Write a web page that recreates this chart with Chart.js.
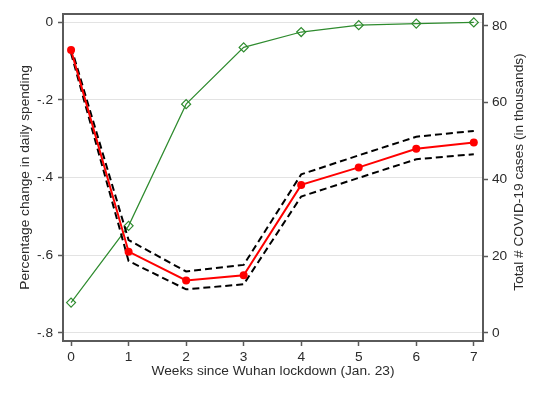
<!DOCTYPE html>
<html>
<head>
<meta charset="utf-8">
<script src="https://cdn.jsdelivr.net/npm/chart.js@4/dist/chart.umd.min.js"></script>
<style>
    body { margin: 0; background: #fff; }
    #wrap { width: 543px; height: 395px; }
</style>
</head>
<body>
<div id="wrap"><canvas id="chart" width="543" height="395"></canvas></div>
<script>
// Data
const weeks = [0, 1, 2, 3, 4, 5, 6, 7];
const spending = [-0.072, -0.591, -0.665, -0.652, -0.419, -0.374, -0.326, -0.310];
const spendingUpper = [-0.064, -0.561, -0.642, -0.625, -0.392, -0.343, -0.295, -0.280];
const spendingLower = [-0.080, -0.615, -0.688, -0.675, -0.449, -0.401, -0.353, -0.340];
const cases = [7.9, 27.9, 59.6, 74.4, 78.4, 80.2, 80.6, 80.9];

// Tick labels
const xTicks = [0, 1, 2, 3, 4, 5, 6, 7];
const leftTicks = [0, -0.2, -0.4, -0.6, -0.8];
const leftTickLabels = ["0", "-.2", "-.4", "-.6", "-.8"];
const rightTicks = [0, 20, 40, 60, 80];
const rightTitle = "Total # COVID-19 cases (in thousands)";

const frameColor = "#5a5a5a";
const textColor = "#2b2b2b";
const font = { family: "Arial, 'Liberation Sans', sans-serif", size: 13.7 };

function pts(ys) {
    return weeks.map((w, i) => ({ x: w, y: ys[i] }));
}

function setTicks(list) {
    return scale => {
        scale.ticks = list.map(v => ({ value: v }));
    };
}

// top line of the frame + right title read bottom-to-top
const extras = {
    id: "extras",
    afterDraw(chart) {
        const { ctx, chartArea } = chart;
        ctx.save();
        ctx.strokeStyle = frameColor;
        ctx.lineWidth = 2;
        ctx.beginPath();
        ctx.moveTo(chartArea.left - 1, chartArea.top);
        ctx.lineTo(chartArea.right + 1, chartArea.top);
        ctx.stroke();

        ctx.translate(519, 172);
        ctx.rotate(-Math.PI / 2);
        ctx.fillStyle = textColor;
        ctx.font = font.size + "px " + font.family;
        ctx.textAlign = "center";
        ctx.textBaseline = "middle";
        ctx.fillText(rightTitle, 0, 0);
        ctx.restore();
    }
};

new Chart(document.getElementById("chart"), {
    type: "line",
    data: {
        datasets: [
            {
                data: pts(spending),
                yAxisID: "y",
                borderColor: "#ff0000",
                backgroundColor: "#ff0000",
                borderWidth: 2,
                pointRadius: 4,
                pointBorderWidth: 0
            },
            {
                data: pts(spendingUpper),
                yAxisID: "y",
                borderColor: "#000000",
                borderWidth: 2,
                borderDash: [7, 4],
                pointRadius: 0
            },
            {
                data: pts(spendingLower),
                yAxisID: "y",
                borderColor: "#000000",
                borderWidth: 2,
                borderDash: [7, 4],
                pointRadius: 0
            },
            {
                data: pts(cases),
                yAxisID: "y1",
                borderColor: "#2e8b2e",
                backgroundColor: "rgba(0,0,0,0)",
                borderWidth: 1.2,
                pointStyle: "rectRot",
                pointRadius: 4.5,
                pointBorderWidth: 1.2
            }
        ]
    },
    options: {
        responsive: false,
        animation: false,
        layout: { padding: { top: 14, left: 0, right: 0, bottom: 0 } },
        plugins: {
            legend: { display: false },
            tooltip: { enabled: false }
        },
        scales: {
            x: {
                type: "linear",
                min: -0.14,
                max: 7.16,
                afterBuildTicks: setTicks(xTicks),
                afterFit: s => { s.height = 54; },
                grid: { drawOnChartArea: false, tickLength: 5, color: frameColor, tickWidth: 1.5 },
                border: { color: frameColor, width: 2 },
                ticks: { font: font, color: textColor, padding: 3, maxRotation: 0 },
                title: {
                    display: true,
                    text: "Weeks since Wuhan lockdown (Jan. 23)",
                    font: font,
                    color: textColor,
                    padding: { top: 0, bottom: 16 }
                }
            },
            y: {
                position: "left",
                min: -0.821,
                max: 0.021,
                afterBuildTicks: setTicks(leftTicks),
                afterFit: s => { s.width = 63; },
                grid: { color: "#e3e3e3", lineWidth: 1, tickLength: 5, tickColor: frameColor, tickWidth: 1.5 },
                border: { color: frameColor, width: 2 },
                ticks: {
                    font: font,
                    color: textColor,
                    padding: 5,
                    callback: (v, i) => leftTickLabels[i]
                },
                title: {
                    display: true,
                    text: "Percentage change in daily spending",
                    font: font,
                    color: textColor,
                    padding: { top: 17, bottom: 0 }
                }
            },
            y1: {
                position: "right",
                min: -2.1,
                max: 83.1,
                afterBuildTicks: setTicks(rightTicks),
                afterFit: s => { s.width = 60; },
                grid: { drawOnChartArea: false, tickLength: 5, color: frameColor, tickWidth: 1.5 },
                border: { color: frameColor, width: 2 },
                ticks: { font: font, color: textColor, padding: 4 },
                title: { display: false }
            }
        }
    },
    plugins: [extras]
});
</script>
</body>
</html>
